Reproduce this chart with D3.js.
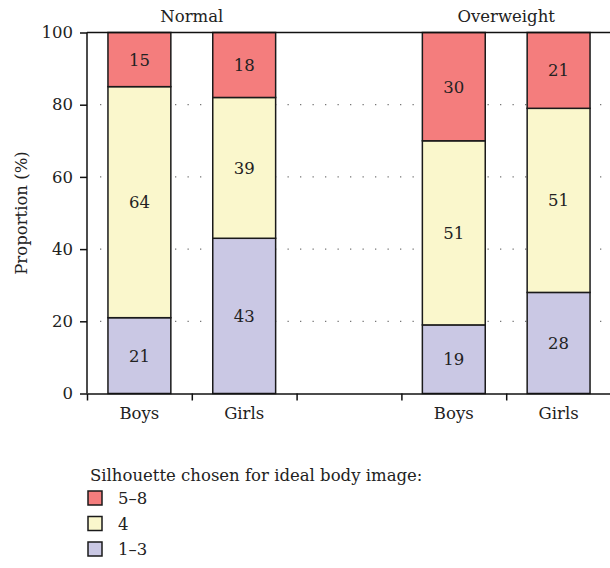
<!DOCTYPE html>
<html>
<head>
<meta charset="utf-8">
<script src="https://cdn.jsdelivr.net/npm/d3@7"></script>
<style>
  body { margin: 0; background: #fff; }
  svg { font-family: "DejaVu Serif", "Liberation Serif", serif; }
  .axis path, .axis line { stroke: #111; stroke-width: 1.5; }
  .axis text { font-size: 16.5px; fill: #222; font-family: "DejaVu Serif", serif; }
</style>
</head>
<body>
<div id="chart"></div>
<script>
// Data
var groups = ["Normal", "Overweight"]
var sexes = ["Boys", "Girls"]
// one slot per bar, plus an empty slot between the two groups
var slots = ["Normal-Boys", "Normal-Girls", "gap", "Overweight-Boys", "Overweight-Girls"]
var categories = ["1–3", "4", "5–8"]            // stacked bottom to top
var low  = [21, 43, 19, 28]   // 1-3
var mid  = [64, 39, 51, 51]   // 4
var high = [15, 18, 30, 21]   // 5-8
var yTicks = [0, 20, 40, 60, 80, 100]
var legendTitle = "Silhouette chosen for ideal body image:"
var legendItems = ["5–8", "4", "1–3"]

var colors = {"1–3": "#cac8e4", "4": "#faf7cc", "5–8": "#f47d7d"}
var fs = 16.5

var bars = []
groups.forEach(function(g, gi){
  sexes.forEach(function(s, si){
    var i = gi * 2 + si
    bars.push({slot: g + '-' + s, group: g, sex: s, "1–3": low[i], "4": mid[i], "5–8": high[i]})
  })
})

var W = 610, H = 568
var svg = d3.select('#chart').append('svg').attr('width', W).attr('height', H)

var pLeft = 87, pRight = 611, pTop = 32.5, pBottom = 393.5

var x = d3.scaleBand().domain(slots).range([pLeft, pRight]).paddingInner(0.4).paddingOuter(0.2)
var y = d3.scaleLinear().domain([0, 100]).range([pBottom, pTop])
// boundaries between slots for the x-axis tick marks
var xb = d3.scaleLinear().domain([0, slots.length]).range([pLeft, pRight])

// dotted grid
svg.append('g').selectAll('line').data(yTicks.filter(function(d){ return d > 0 && d < 100 }))
  .enter().append('line')
  .attr('x1', pLeft + 13).attr('x2', pRight)
  .attr('y1', function(d){ return y(d) }).attr('y2', function(d){ return y(d) })
  .attr('stroke', '#777').attr('stroke-width', 1.3)
  .attr('stroke-dasharray', '1.3,11.2')

// stacked bars
var stack = d3.stack().keys(categories)
var series = stack(bars)

svg.append('g').selectAll('g').data(series).enter().append('g')
  .attr('fill', function(d){ return colors[d.key] })
  .selectAll('rect').data(function(d){ return d }).enter().append('rect')
  .attr('x', function(d){ return x(d.data.slot) })
  .attr('width', x.bandwidth())
  .attr('y', function(d){ return y(d[1]) })
  .attr('height', function(d){ return y(d[0]) - y(d[1]) })
  .attr('stroke', '#1a1a1a').attr('stroke-width', 1.5)

// value labels
svg.append('g').selectAll('g').data(series).enter().append('g')
  .selectAll('text').data(function(d){ return d.map(function(p){ return {p: p, key: d.key} }) })
  .enter().append('text')
  .attr('x', function(d){ return x(d.p.data.slot) + x.bandwidth() / 2 })
  .attr('y', function(d){ return y((d.p[0] + d.p[1]) / 2) + 6 })
  .attr('text-anchor', 'middle').attr('font-size', fs).attr('fill', '#222')
  .text(function(d){ return d.p.data[d.key] })

// axes
svg.append('g').attr('class', 'axis').attr('transform', 'translate(' + pLeft + ',0)')
  .call(d3.axisLeft(y).tickValues(yTicks).tickSize(7).tickPadding(7))
  .call(function(g){ g.select('.domain').remove() })
svg.append('line').attr('x1', pLeft).attr('x2', pLeft).attr('y1', pTop).attr('y2', pBottom)
  .attr('stroke', '#111').attr('stroke-width', 1.5)
svg.append('line').attr('x1', pLeft).attr('x2', pRight).attr('y1', pTop).attr('y2', pTop)
  .attr('stroke', '#111').attr('stroke-width', 1.5)

svg.append('g').attr('class', 'axis').attr('transform', 'translate(0,' + pBottom + ')')
  .call(d3.axisBottom(xb).tickValues(d3.range(slots.length + 1)).tickFormat('').tickSize(7).tickSizeOuter(0))

svg.append('g').selectAll('text').data(bars).enter().append('text')
  .attr('x', function(d){ return x(d.slot) + x.bandwidth() / 2 })
  .attr('y', pBottom + 25)
  .attr('text-anchor', 'middle').attr('font-size', fs).attr('fill', '#222')
  .text(function(d){ return d.sex })

// group titles
svg.append('g').selectAll('text').data(groups).enter().append('text')
  .attr('x', function(g){ return (x(g + '-Boys') + x(g + '-Girls') + x.bandwidth()) / 2 })
  .attr('y', 22)
  .attr('text-anchor', 'middle').attr('font-size', fs).attr('fill', '#222')
  .text(function(g){ return g })

// y title
svg.append('text')
  .attr('transform', 'translate(27,' + (pTop + pBottom) / 2 + ') rotate(-90)')
  .attr('text-anchor', 'middle').attr('font-size', fs).attr('fill', '#222')
  .text('Proportion (%)')

// legend
var lg = svg.append('g').attr('transform', 'translate(88,0)')
lg.append('text').attr('x', 2).attr('y', 481).attr('font-size', fs).attr('fill', '#222').text(legendTitle)
var li = lg.selectAll('g').data(legendItems).enter().append('g')
  .attr('transform', function(d, i){ return 'translate(0,' + (491 + i * 25.5) + ')' })
li.append('rect').attr('width', 14).attr('height', 14)
  .attr('fill', function(d){ return colors[d] }).attr('stroke', '#1a1a1a').attr('stroke-width', 1.5)
li.append('text').attr('x', 30).attr('y', 13).attr('font-size', fs).attr('fill', '#222')
  .text(function(d){ return d })
</script>
</body>
</html>
